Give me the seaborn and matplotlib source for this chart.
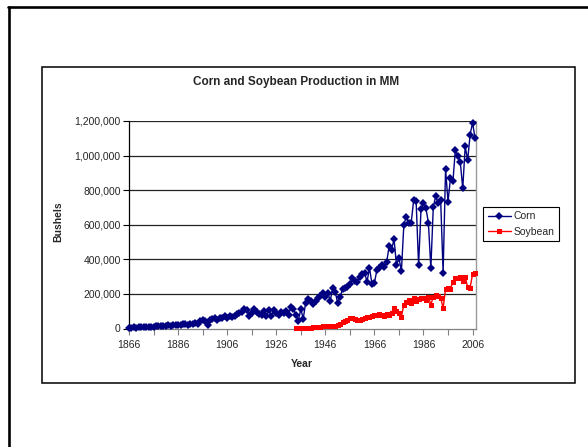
"""
Corn and Soybean Production in MM
Excel style line chart, redrawn with seaborn
"""

import numpy as np
import matplotlib.pyplot as plt
import matplotlib.patches as patches
from matplotlib.lines import Line2D
from matplotlib.ticker import FuncFormatter
import seaborn as sns

sns.set_style("white")

plt.rcParams["font.family"] = ["Liberation Sans", "DejaVu Sans"]

########################################################
# data

corn_years = list(range(1866, 2008))

corn = [
    4000, 5000, 6000, 5000, 7500, 7000, 8500, 8000, 7500, 11000,
    11500, 12000, 13500, 15500, 15000, 12500, 18000, 16500, 19000, 20500,
    21000, 19500, 25000, 27000, 22000, 28000, 26000, 30000, 24000, 45000,
    50000, 44000, 22000, 52000, 55000, 58000, 50000, 62000, 60000, 72000,
    62000, 75000, 68000, 72000, 85000, 92000, 98000, 110000, 108000, 72000,
    90000, 112000, 98000, 82000, 80000, 100000, 70000, 108000, 72000, 108000,
    88000, 80000, 98000, 88000, 104000, 78000, 127000, 110000, 80000, 43000,
    112000, 57000, 150000, 170000, 161000, 140000, 160000, 175000, 188000, 204000,
    185000, 208000, 160000, 235000, 213000, 150000, 180000, 227000, 233000, 242000,
    255000, 290000, 277000, 268000, 300000, 315000, 323000, 271000, 350000, 258000,
    263000, 338000, 350000, 370000, 358000, 385000, 475000, 455000, 517000, 367000,
    408000, 331000, 600000, 646000, 608000, 613000, 742000, 737000, 367000, 690000,
    723000, 694000, 613000, 348000, 704000, 765000, 723000, 742000, 323000, 921000,
    733000, 871000, 852000, 1035000, 996000, 963000, 810000, 1054000, 973000, 1121000,
    1190000, 1102000,
]

soy_years = list(range(1934, 2008))

soybean = [
    2000, 2000, 3000, 3000, 4000, 4500, 5000, 6000, 8000, 9000,
    10000, 12000, 12000, 14000, 13000, 16000, 17000, 22000, 28000, 35000,
    42000, 52000, 58000, 60000, 55000, 52000, 48000, 55000, 62000, 65000,
    67000, 70000, 77000, 78000, 85000, 80000, 75000, 85000, 78000, 92000,
    121000, 100000, 88000, 69000, 137000, 152000, 165000, 150000, 179000, 160000,
    171000, 175000, 175000, 165000, 185000, 137000, 185000, 194000, 190000, 179000,
    117000, 229000, 233000, 229000, 271000, 290000, 294000, 300000, 275000, 300000,
    238000, 237000, 313000, 319000,
]

x_ticks = list(range(1866, 2007, 10))
x_labels = [str(y) if (y - 1866) % 20 == 0 else "" for y in x_ticks]

y_ticks = [0, 200000, 400000, 600000, 800000, 1000000, 1200000]

NAVY = "#000080"
RED = "#FF0000"

########################################################
# figure

W, H = 588, 447

fig = plt.figure(figsize=(W / 100, H / 100), dpi=100)

# plot area in pixel coordinates of the original
left, right, top, bottom = 129, 476, 121, 328.5

ax = fig.add_axes([
    left / W,
    (H - bottom) / H,
    (right - left) / W,
    (bottom - top) / H,
])

sns.lineplot(
    x=corn_years,
    y=corn,
    color=NAVY,
    marker="D",
    markersize=4.0,
    markeredgewidth=0,
    linewidth=1.0,
    clip_on=False,
    zorder=4,
    ax=ax,
)

sns.lineplot(
    x=soy_years,
    y=soybean,
    color=RED,
    marker="s",
    markersize=3.6,
    markeredgewidth=0,
    linewidth=1.0,
    clip_on=False,
    zorder=3,
    ax=ax,
)

ax.set_xlim(1866, 2007.4)
ax.set_ylim(0, 1200000)

ax.set_xticks(x_ticks)
ax.set_xticklabels(x_labels)
ax.set_yticks(y_ticks)
ax.yaxis.set_major_formatter(FuncFormatter(lambda v, p: f"{int(v):,}"))

ax.tick_params(axis="y", direction="out", length=4, width=0.8,
               color="black", pad=2, labelsize=7.5, left=True)
ax.tick_params(axis="x", direction="out", length=4, width=0.8,
               color="#808080", pad=4, labelsize=7.5, bottom=True)

ax.set_xlabel("")
ax.set_ylabel("")

# horizontal gridlines
for v in y_ticks[1:]:
    ax.axhline(v, color="#222222", linewidth=0.9, zorder=1)

ax.spines["top"].set_visible(False)
ax.spines["left"].set_color("black")
ax.spines["left"].set_linewidth(0.9)
ax.spines["bottom"].set_color("#808080")
ax.spines["bottom"].set_linewidth(0.9)
ax.spines["right"].set_color("#9a9a9a")
ax.spines["right"].set_linewidth(1.0)

########################################################
# texts

fig.text(296 / W, 1 - 82 / H, "Corn and Soybean Production in MM",
         ha="center", va="center", fontsize=8.5, fontweight="bold")

fig.text(302 / W, 1 - 364 / H, "Year",
         ha="center", va="center", fontsize=7.5, fontweight="bold")

fig.text(58 / W, 1 - 222 / H, "Bushels", rotation=90,
         ha="center", va="center", fontsize=7.5, fontweight="bold")

########################################################
# legend

handles = [
    Line2D([], [], color=NAVY, marker="D", markersize=4.0,
           markeredgewidth=0, linewidth=1.0),
    Line2D([], [], color=RED, marker="s", markersize=3.6,
           markeredgewidth=0, linewidth=1.0),
]

leg = ax.legend(
    handles,
    ["Corn", "Soybean"],
    loc="center left",
    bbox_to_anchor=(483 / W, 1 - 224 / H),
    bbox_transform=fig.transFigure,
    frameon=True,
    fancybox=False,
    edgecolor="black",
    framealpha=1,
    fontsize=7.5,
    handlelength=2.2,
    handletextpad=0.3,
    borderpad=0.45,
    labelspacing=0.5,
    borderaxespad=0,
)
leg.get_frame().set_linewidth(0.8)

########################################################
# chart area box and outer border

fig.patches.append(patches.Rectangle(
    (42 / W, 1 - 383 / H), (575 - 42) / W, (383 - 67) / H,
    transform=fig.transFigure, fill=False,
    edgecolor="black", linewidth=1.1,
))

fig.lines.append(Line2D(
    [8.5 / W, 8.5 / W], [0, 1 - 6.5 / H],
    transform=fig.transFigure, color="black", linewidth=1.9,
))
fig.lines.append(Line2D(
    [7.8 / W, 1], [1 - 6.5 / H, 1 - 6.5 / H],
    transform=fig.transFigure, color="black", linewidth=1.9,
))

fig.savefig("out.png", dpi=100)

plt.close()
